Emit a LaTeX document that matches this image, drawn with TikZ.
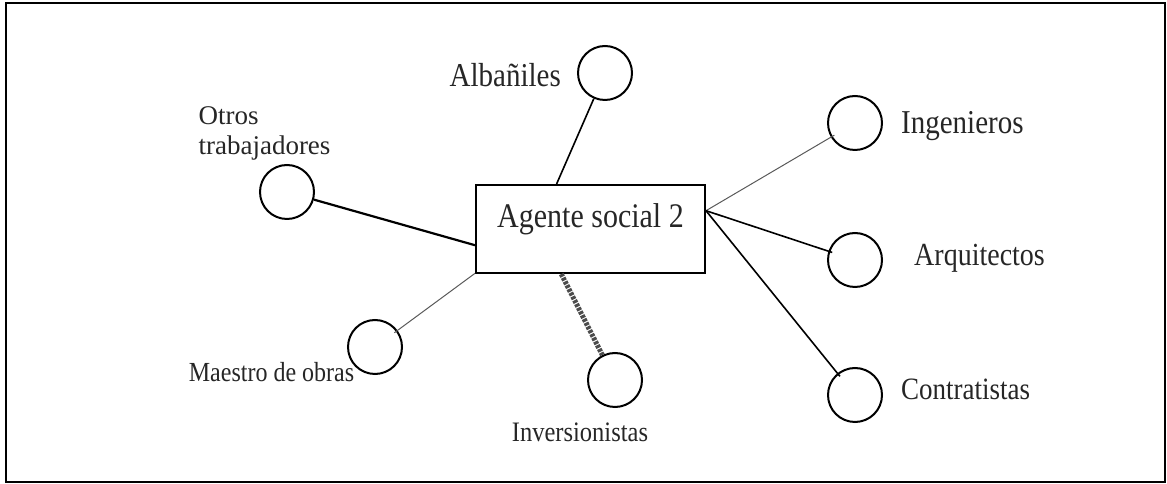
\documentclass[tikz,border=0pt]{standalone}
\usepackage{fontspec}
\setmainfont{Liberation Serif}
\newcommand{\tallTxt}[1]{\scalebox{1}[1.15]{#1}}
\begin{document}
\begin{tikzpicture}[x=1pt,y=1pt]
\tikzset{actor/.style={draw, circle, line width=2pt, minimum size=54pt, inner sep=0pt},
  lbl/.style={inner sep=0pt, text=black!85, font=\fontsize{#1}{30}\selectfont},
  thin link/.style={draw=black!65, line width=1pt, shorten >=-4pt},
  mid link/.style={line width=1.6pt},
  inv link/.style={draw=black!70, line width=5pt, dash pattern=on 3pt off 1.2pt}}
\useasboundingbox (0,0) rectangle (1167,484);
\draw [line width=2pt] (6,2) rectangle (1165,481);
% centre
\node [draw, line width=2pt, minimum width=229pt, minimum height=88pt, text=black!85,
  text height=20pt, text depth=22pt, font=\fontsize{30}{36}\selectfont] (ag) at (590.5,255) {\tallTxt{Agente social 2}};
% agentes
\node [actor] (alb) at (605,411) {};
\node [lbl=29, anchor=east] (alb-t) at (561,409) {\tallTxt{Albañiles}};
\node [actor] (otr) at (287,292) {};
\node [lbl=27, align=left] (otr-t) at (264.5,351) {Otros\\trabajadores};
\node [actor] (mae) at (375,137) {};
\node [lbl=24] (mae-t) at (271.5,112) {\tallTxt{Maestro de obras}};
\node [actor] (inv) at (615,104) {};
\node [lbl=24.5] (inv-t) at (580,52) {\tallTxt{Inversionistas}};
\node [actor] (ing) at (855,361) {};
\node [lbl=29, anchor=west] (ing-t) at (901,358) {\tallTxt{Ingenieros}};
\node [actor] (arq) at (855,224) {};
\node [lbl=28, anchor=west] (arq-t) at (914,226) {\tallTxt{Arquitectos}};
\node [actor] (con) at (855,89) {};
\node [lbl=27, anchor=west] (con-t) at (901,95) {\tallTxt{Contratistas}};
% enlaces
\draw [mid link] (ag.127) -- (alb);
\draw [line width=2.2pt] (ag.188) -- (otr);
\draw [thin link] (ag.201) -- (mae);
\draw [inv link] (ag.237) -- (inv);
\draw [thin link] (ag.9) -- (ing);
\draw [mid link, shorten >=-4pt] (ag.9) -- (arq);
\draw [mid link, shorten >=-4pt] (ag.9) -- (con);
\end{tikzpicture}
\end{document}
